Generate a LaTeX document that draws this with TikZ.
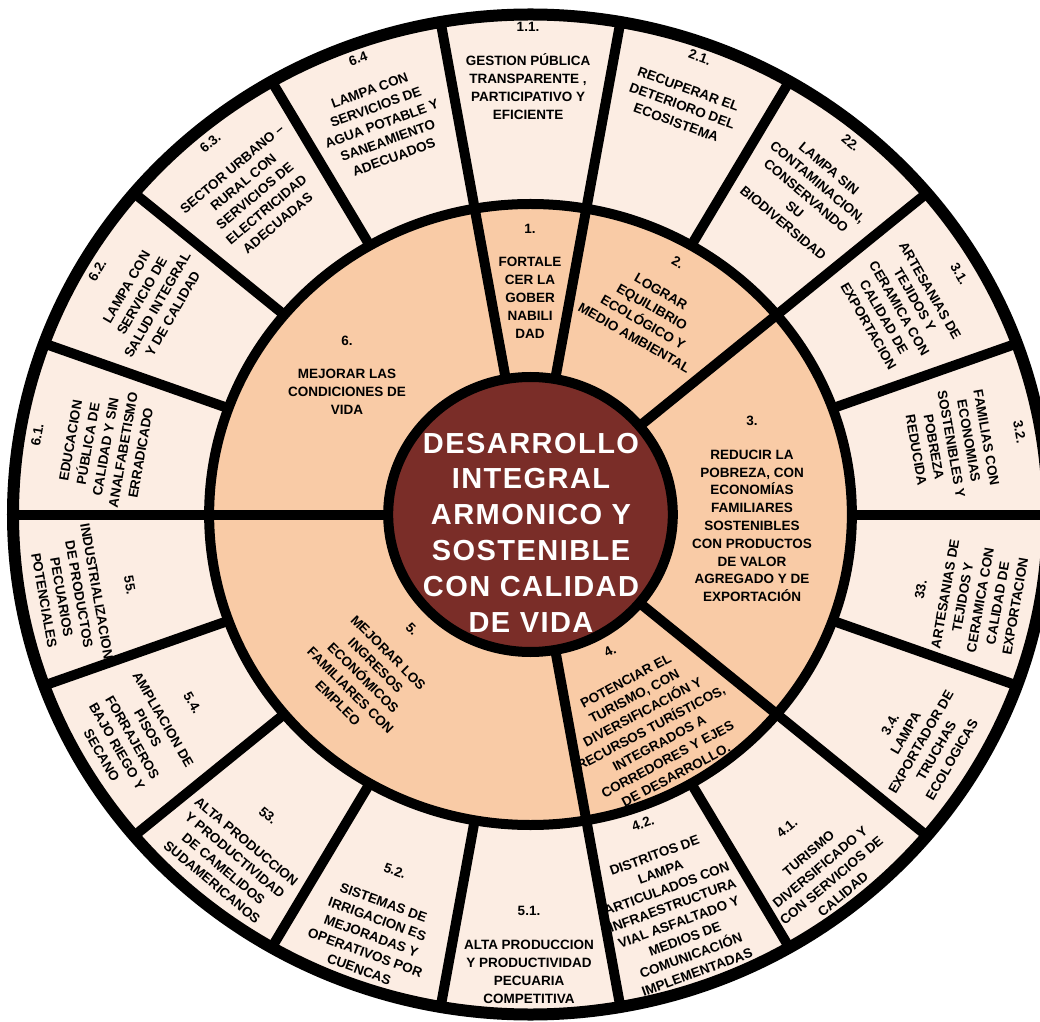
\documentclass[tikz,border=0pt]{standalone}
\usepackage{fontspec}
\setmainfont{Liberation Sans}
\definecolor{ringout}{RGB}{252,237,227}
\definecolor{ringin}{RGB}{249,203,166}
\definecolor{core}{RGB}{122,45,40}
\begin{document}
\begin{tikzpicture}[x=1pt,y=1pt,
  lbl/.style={align=center, inner sep=0pt, text=black,
    font=\fontsize{13.5}{17.8}\selectfont\bfseries},
  ctr/.style={align=center, inner sep=0pt, text=white,
    font=\fontsize{29}{35.8}\selectfont\bfseries\addfontfeature{LetterSpace=5}},
  divider/.style={line width=10pt}]
\useasboundingbox (0,0) rectangle (1040,1021);
\clip (0,0) rectangle (1040,1021);
\fill[white] (0,0) rectangle (1040,1021);
\begin{scope}[shift={(530.5,506.5)}, xscale=1.035]
  \coordinate (O) at (0,0);
  \fill[ringout] (O) circle (500);
  \fill[ringin] (O) circle (310.5);
  \foreach \a in {0,20,...,340} \draw[divider] (\a:310.5) -- (\a:500);
  \foreach \a in {80,100,40,-40,-80,180} \draw[divider] (\a:137.5) -- (\a:310.5);
  \draw[line width=12pt] (O) circle (500);
  \draw[line width=10pt] (O) circle (310.5);
  \draw[line width=10pt, fill=core] (O) circle (137.5);
\end{scope}

% centre
\node[ctr] (c) at (531,488.5) {DESARROLLO\\INTEGRAL\\ARMONICO Y\\SOSTENIBLE\\CON CALIDAD\\DE VIDA};

% inner sectors
\node[lbl] (i1) at (530,740) {1.\\[16pt]FORTALE\\CER LA\\GOBER\\NABILI\\DAD};
\node[lbl, rotate=-30] (i2) at (656,721) {2.\\[16pt]LOGRAR\\EQUILIBRIO\\ECOLÓGICO Y\\MEDIO AMBIENTAL};
\node[lbl] (i3) at (752,512) {3.\\[16pt]REDUCIR LA\\POBREZA, CON\\ECONOMÍAS\\FAMILIARES\\SOSTENIBLES\\CON PRODUCTOS\\DE VALOR\\AGREGADO Y DE\\EXPORTACIÓN};
\node[lbl, rotate=28] (i4) at (643,308) {4.\\[16pt]POTENCIAR EL\\TURISMO, CON\\DIVERSIFICACIÓN Y\\RECURSOS TURÍSTICOS,\\INTEGRADOS A\\CORREDORES Y EJES\\DE DESARROLLO.};
\node[lbl, rotate=-45] (i5) at (375,355) {5.\\[16pt]MEJORAR LOS\\INGRESOS\\ECONÓMICOS\\FAMILIARES CON\\EMPLEO};
\node[lbl] (i6) at (347,646) {6.\\[16pt]MEJORAR LAS\\CONDICIONES DE\\VIDA};

% outer sectors
\node[lbl] (o11) at (528,950) {1.1.\\[16pt]GESTION PÚBLICA\\TRANSPARENTE ,\\PARTICIPATIVO Y\\EFICIENTE};
\node[lbl, rotate=-20] (o21) at (688,931) {2.1.\\[16pt]RECUPERAR EL\\DETERIORO DEL\\ECOSISTEMA};
\node[lbl, rotate=-40] (o22) at (817,838) {22.\\[16pt]LAMPA SIN\\CONTAMINACION,\\CONSERVANDO\\SU\\BIODIVERSIDAD};
\node[lbl, rotate=-60] (o31) at (914,721) {3.1.\\[16pt]ARTESANIAS DE\\TEJIDOS Y\\CERAMICA CON\\CALIDAD DE\\EXPORTACION};
\node[lbl, rotate=-80] (o32) at (968,580) {3.2.\\[16pt]FAMILIAS CON\\ECONOMIAS\\SOSTENIBLES Y\\POBREZA\\REDUCIDA};
\node[lbl, rotate=80] (o33) at (968,423) {33.\\[7pt]ARTESANIAS DE\\TEJIDOS Y\\CERAMICA CON\\CALIDAD DE\\EXPORTACION};
\node[lbl, rotate=60] (o34) at (921,279) {3.4.\\LAMPA\\EXPORTADOR DE\\TRUCHAS\\ECOLOGICAS};
\node[lbl, rotate=40] (o41) at (815,160) {4.1.\\[16pt]TURISMO\\DIVERSIFICADO Y\\CON SERVICIOS DE\\CALIDAD};
\node[lbl, rotate=20] (o42) at (670,123) {4.2.\\[16pt]DISTRITOS DE\\LAMPA\\ARTICULADOS CON\\INFRAESTRUCTURA\\VIAL ASFALTADO Y\\MEDIOS DE\\COMUNICACIÓN\\IMPLEMENTADAS};
\node[lbl] (o51) at (529,66) {5.1.\\[16pt]ALTA PRODUCCION\\Y PRODUCTIVIDAD\\PECUARIA\\COMPETITIVA};
\node[lbl, rotate=-20] (o52) at (377,101) {5.2.\\[16pt]SISTEMAS DE\\IRRIGACION ES\\MEJORADAS  Y\\OPERATIVOS POR\\CUENCAS};
\node[lbl, rotate=-40] (o53) at (240,172) {53.\\[16pt]ALTA PRODUCCION\\Y PRODUCTIVIDAD\\DE CAMELIDOS\\SUDAMERICANOS};
\node[lbl, rotate=-60] (o54) at (147,292) {5.4.\\[16pt]AMPLIACION DE\\PISOS\\FORRAJEROS\\BAJO RIEGO Y\\SECANO};
\node[lbl, rotate=-80] (o55) at (87,428) {55.\\[16pt]INDUSTRIALIZACION\\DE PRODUCTOS\\PECUARIOS\\POTENCIALES};
\node[lbl, rotate=80] (o61) at (89,577) {6.1.\\[16pt]EDUCACION\\PÚBLICA DE\\CALIDAD Y  SIN\\ANALFABETISMO\\ERRADICADO};
\node[lbl, rotate=60] (o62) at (135,729) {6.2.\\[16pt]LAMPA CON\\SERVICIO DE\\SALUD INTEGRAL\\Y DE CALIDAD};
\node[lbl, rotate=40] (o63) at (244,838) {6.3.\\[16pt]SECTOR URBANO –\\RURAL CON\\SERVICIOS DE\\ELECTRICIDAD\\ADECUADAS};
\node[lbl, rotate=20] (o64) at (376,913) {6.4\\[16pt]LAMPA CON\\SERVICIOS DE\\AGUA POTABLE Y\\SANEAMIENTO\\ADECUADOS};
\end{tikzpicture}
\end{document}
